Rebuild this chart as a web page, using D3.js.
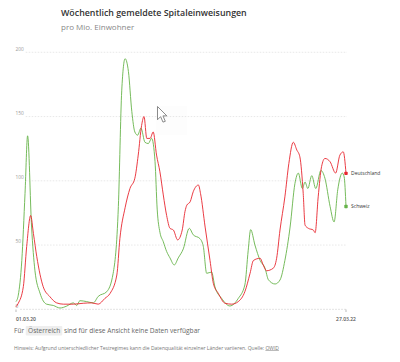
<html>
<head>
<meta charset="utf-8">
<script src="https://d3js.org/d3.v7.min.js"></script>
<style>
  body { margin: 0; background: #fff; }
  svg { display: block; font-family: "Open Sans", "Noto Sans", sans-serif; }
</style>
</head>
<body>
<script>
// weeks since 01.03.20 and hospitalisations per million
var chWeeks  = [0, 0.75, 1.9, 2.95, 3.8, 5.1, 6.2, 7.85, 10, 12.2, 14.4, 16.6, 18.75, 19.9, 20.9, 23.1, 25.3, 26.9, 29.7, 31.8, 33.5, 34.6, 35.7, 36.8, 37.9, 38.9, 39.8, 40.9, 42.2, 43.3, 44.4, 45.5, 46.2, 47.1, 48.2, 49.3, 50.4, 51.8, 53.1, 54.75, 56.7, 58, 60.2, 61.3, 62.4, 64, 65.1, 67.3, 70, 72.75, 74.9, 76, 76.8, 78.2, 79.9, 81.5, 82.6, 84.8, 86.4, 88, 89.7, 91.3, 92.4, 93.7, 94.6, 95.5, 96.8, 98.1, 99.8, 101.1, 102.8, 104.1, 105.3, 106.8, 107.4, 108];
var chValues = [6, 11, 38, 90, 135, 64, 30, 12.6, 4, 3, 1, 2.5, 5, 3, 6.7, 6, 5, 10, 13.7, 28, 80, 170, 195, 185, 154, 138, 135.5, 141, 130, 129, 133, 115, 78, 60, 52.6, 45, 40, 34.5, 40, 47, 63, 58, 55, 49, 28, 29, 17.6, 8.5, 2.6, 8.5, 19, 46, 62, 50, 38, 32, 23, 19.7, 22.8, 38, 64, 98, 106, 94, 99, 94, 104, 94, 108, 102, 80, 68, 93, 106, 103, 80];

var deWeeks  = [0, 0.75, 2.4, 3.5, 4.8, 5.7, 6.8, 8.9, 11.1, 13.3, 15.5, 18.75, 22, 24.8, 26.9, 29.1, 30.8, 33, 34, 35.7, 37.3, 38.9, 40, 41.1, 41.9, 42.8, 43.9, 44.9, 46, 47.1, 48.2, 49.3, 50.4, 51.5, 52.9, 54.4, 55.3, 55.9, 57, 58, 59.7, 60.4, 61.9, 63.5, 64.6, 66.2, 68.4, 70.6, 72.75, 74.9, 76.6, 77.7, 79.9, 80.9, 82, 84.2, 85.3, 86.4, 88, 89.3, 90.75, 91.9, 92.9, 94, 94.6, 95.7, 97.3, 97.9, 98.9, 100, 101.1, 102.8, 104.6, 106, 107.1, 108];
var deValues = [2, 4.7, 17.6, 49, 73, 59, 41, 17.6, 9.8, 5, 4, 4, 4.7, 5, 4, 8.5, 12.4, 26.7, 55, 79, 94, 102, 120, 143, 150, 133, 133, 138, 120, 107, 89, 73, 63, 61.7, 54, 61.7, 76, 81, 83.7, 91.5, 96.7, 90, 64, 38, 20, 12.4, 4.7, 4, 6, 13.7, 28, 38, 39.7, 34.5, 30, 32, 39.7, 61.7, 87.5, 113.5, 130, 124, 118.7, 90, 65.5, 63, 61.7, 59.6, 87.5, 111, 117.4, 114.8, 106, 120, 122.5, 105.8];

var yTicks = [0, 50, 100, 150, 200];
var xTickLabels = ["01.03.20", "27.03.22"];

var w = 400, h = 362;
var start = new Date(2020, 2, 1), end = new Date(2022, 2, 27);

var svg = d3.select("body").append("svg").attr("width", w).attr("height", h);

var xScale = d3.scaleTime().domain([start, end]).range([16, 346]);
var yScale = d3.scaleLinear().domain([0, 200]).range([309.3, 52.3]);

function toPoints(weeks, values) {
  return weeks.map(function(wk, i) {
    return { date: d3.timeHour.offset(start, Math.round(wk * 7 * 24)), value: values[i] };
  });
}
var de = toPoints(deWeeks, deValues);
var ch = toPoints(chWeeks, chValues);

// title
svg.append("text").attr("x", 61).attr("y", 16.2)
  .style("font-size", "8.85px").style("font-weight", 600).style("fill", "#333")
  .text("Wöchentlich gemeldete Spitaleinweisungen");
svg.append("text").attr("x", 61).attr("y", 29.5)
  .style("font-size", "8px").style("fill", "#888")
  .text("pro Mio. Einwohner");

// grid + y labels
var grid = svg.append("g");
yTicks.forEach(function(t) {
  var lab = grid.append("text").attr("x", 15.5).attr("y", yScale(t) - 1.8)
    .style("font-size", "4.8px").style("fill", "#999").text(t);
  var x0 = 15.5 + lab.node().getComputedTextLength() + 2;
  grid.append("line")
    .attr("x1", x0).attr("x2", 347)
    .attr("y1", yScale(t)).attr("y2", yScale(t))
    .style("stroke", t === 0 ? "#cfcfcf" : "#e2e2e2")
    .style("stroke-width", 0.8)
    .style("stroke-dasharray", "1.5,1.5");
});

// x ticks
[start, end].forEach(function(d, i) {
  svg.append("line").attr("x1", xScale(d)).attr("x2", xScale(d))
    .attr("y1", 309.5).attr("y2", 312).style("stroke", "#aaa").style("stroke-width", 0.8);
  svg.append("text").attr("x", xScale(d)).attr("y", 320.5)
    .style("text-anchor", i === 0 ? "start" : "middle")
    .style("font-size", "5px").style("font-weight", 600).style("fill", "#555")
    .text(xTickLabels[i]);
});

var line = d3.line()
  .x(function(d) { return xScale(d.date); })
  .y(function(d) { return yScale(d.value); })
  .curve(d3.curveMonotoneX);

var green = "#66b34a", red = "#e8262f";

svg.append("path").datum(ch).attr("d", line)
  .style("fill", "none").style("stroke", green).style("stroke-width", 0.9);
svg.append("path").datum(de).attr("d", line)
  .style("fill", "none").style("stroke", red).style("stroke-width", 0.9);

// end markers + labels
[[de, red, "Deutschland"], [ch, green, "Schweiz"]].forEach(function(s) {
  var last = s[0][s[0].length - 1];
  svg.append("rect")
    .attr("x", xScale(last.date) - 1.7).attr("y", yScale(last.value) - 1.7)
    .attr("width", 3.4).attr("height", 3.4).attr("rx", 0.8)
    .style("fill", s[1]);
  svg.append("text").attr("x", xScale(last.date) + 5).attr("y", yScale(last.value) + 1.7)
    .style("font-size", "5px").style("fill", "#333").text(s[2]);
});

// mouse cursor from the screenshot
svg.append("rect").attr("x", 156).attr("y", 106).attr("width", 31).attr("height", 29)
  .style("fill", "#000").style("opacity", 0.006);
svg.append("path")
  .attr("transform", "translate(157.5,106.5) scale(0.78)")
  .attr("d", "M0,0 L0,17 L4,13 L7,20 L10,19 L7,12 L12,12 Z")
  .style("fill", "#fff").style("stroke", "#777").style("stroke-width", 1.1);

// note about Austria
var note = svg.append("g");
note.append("text").attr("x", 14).attr("y", 333)
  .style("font-size", "6.6px").style("fill", "#666").text("Für");
note.append("rect").attr("x", 25.7).attr("y", 326).attr("width", 36.6).attr("height", 9.5)
  .attr("rx", 1).style("fill", "#eeeeee");
note.append("text").attr("x", 28).attr("y", 333)
  .style("font-size", "6.6px").style("fill", "#666").text("Österreich");
note.append("text").attr("x", 64).attr("y", 333)
  .style("font-size", "6.6px").style("fill", "#666").text("sind für diese Ansicht keine Daten verfügbar");

// source
var src = svg.append("text").attr("x", 14).attr("y", 349.5)
  .style("font-size", "5px").style("fill", "#777");
src.append("tspan").text("Hinweis: Aufgrund unterschiedlicher Testregimes kann die Datenqualität einzelner Länder variieren. Quelle: ");
src.append("tspan").style("text-decoration", "underline").text("OWID");
</script>
</body>
</html>
